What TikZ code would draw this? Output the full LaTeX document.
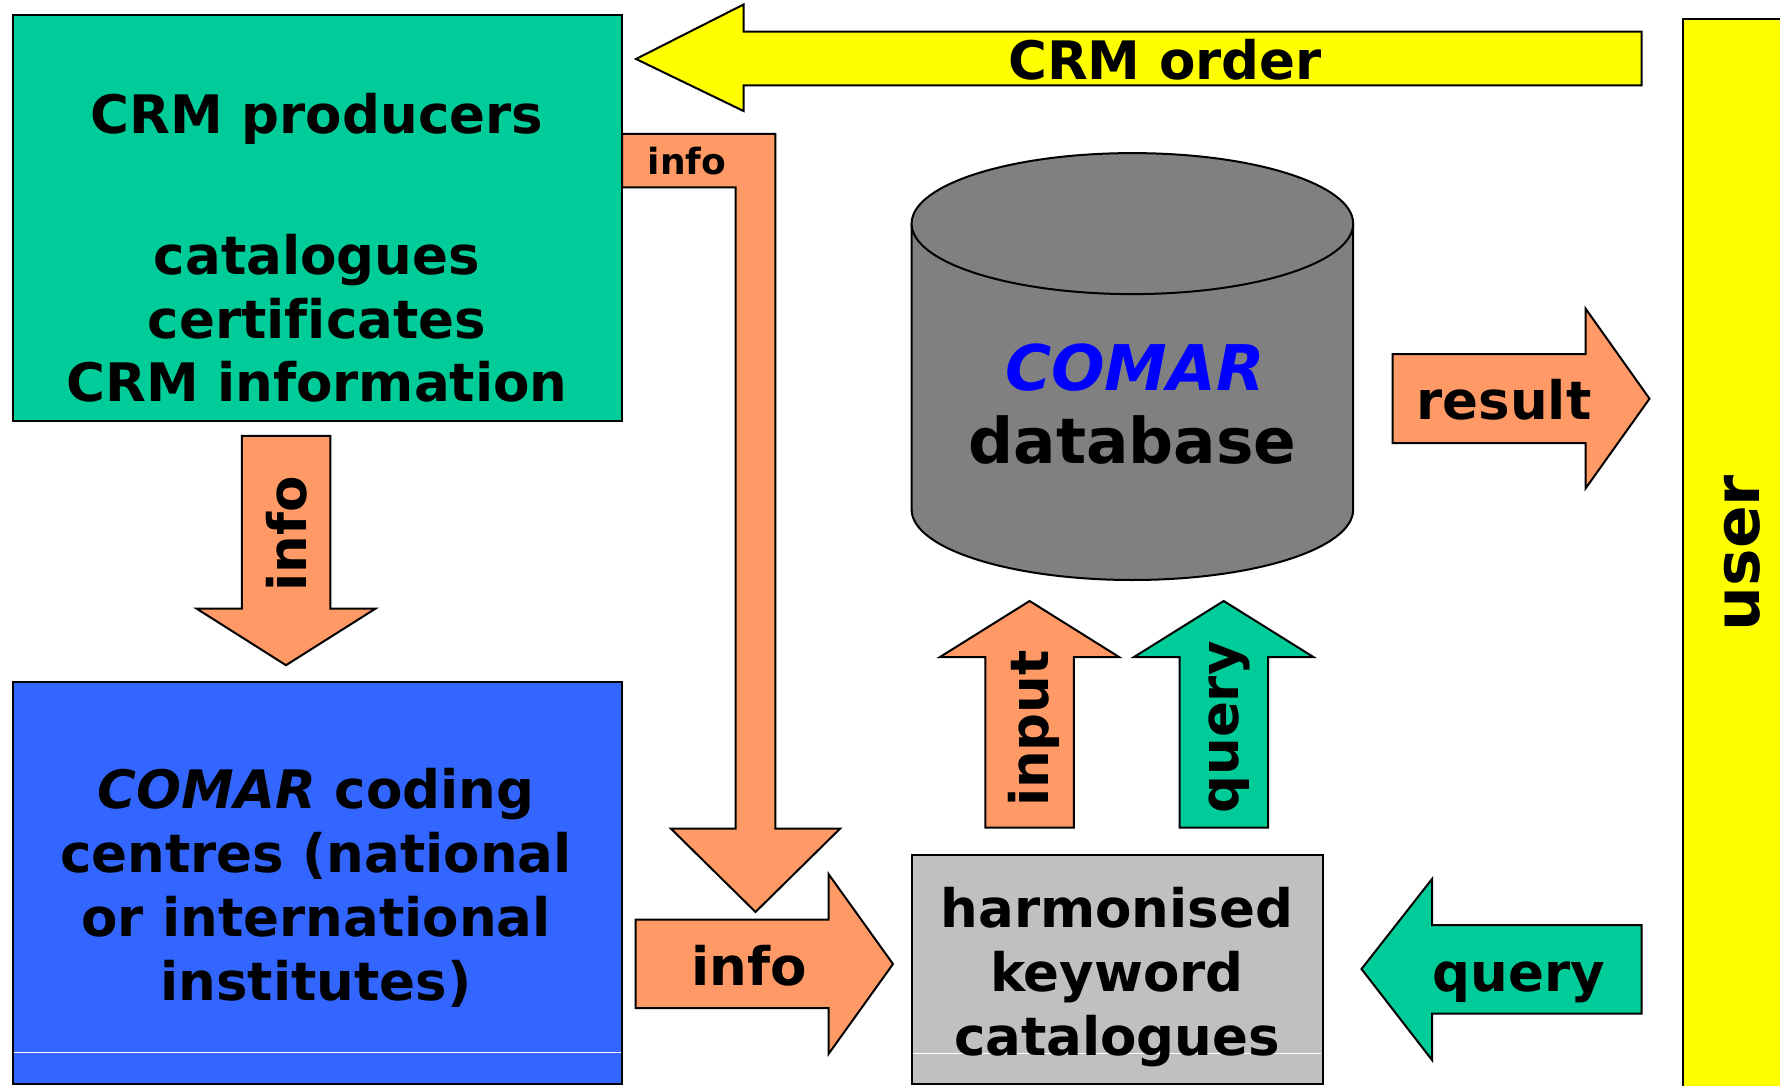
\documentclass[tikz,border=0pt]{standalone}
\usepackage{fontspec}
\setmainfont[Ligatures=NoCommon]{DejaVu Sans}
\definecolor{cgreen}{HTML}{00CC99}
\definecolor{cblue}{HTML}{3366FF}
\definecolor{corange}{HTML}{FF9966}
\definecolor{cyellow}{HTML}{FFFF00}
\definecolor{cgray}{HTML}{808080}
\definecolor{clgray}{HTML}{C0C0C0}
\definecolor{ctblue}{HTML}{0000FF}
\begin{document}
\begin{tikzpicture}[x=1pt,y=-1pt,
  outl/.style={draw=black,line width=2pt,line join=miter},
  boxnode/.style={outl,inner sep=0pt,outer sep=0pt,anchor=north west},
  lbl/.style={inner sep=0pt,font=\bfseries\fontsize{53}{64}\selectfont},
  biglbl/.style={inner sep=0pt,font=\bfseries\fontsize{63}{74}\selectfont},
  smalllbl/.style={inner sep=0pt,font=\bfseries\fontsize{36}{44}\selectfont},
  whiteline/.style={draw=white,line width=1pt}]
\useasboundingbox (0,0) rectangle (1780,1086);

% user bar
\node[boxnode,fill=cyellow,minimum width=110pt,minimum height=1080pt] (userbar) at (1682.5,19.3) {};
\node[biglbl,rotate=90] (usertxt) at (1742.5,553) {user};

% CRM producers box
\node[boxnode,fill=cgreen,minimum width=609.5pt,minimum height=406.5pt] (prod) at (12.5,14.8) {};
\node[lbl,anchor=base] (p1) at (317,134) {CRM producers};
\node[lbl,anchor=base] (p2) at (317,274.5) {catalogues};
\node[lbl,anchor=base] (p3) at (317,338) {certificates};
\node[lbl,anchor=base] (p4) at (317,401.5) {CRM information};

% coding centres box
\node[boxnode,fill=cblue,minimum width=609.5pt,minimum height=402pt] (centres) at (12.5,682) {};
\draw[whiteline] (14,1052.5) -- (621,1052.5);
\node[lbl,anchor=base] (c1) at (316,808) {{\itshape COMAR} coding};
\node[lbl,anchor=base] (c2) at (316,872) {centres (national};
\node[lbl,anchor=base] (c3) at (316,936) {or international};
\node[lbl,anchor=base] (c4) at (316,1000) {institutes)};

% keyword catalogues box
\node[boxnode,fill=clgray,minimum width=411pt,minimum height=229.2pt] (kw) at (911.6,854.8) {};
\draw[whiteline] (913,1053) -- (1321,1053);
\node[lbl,anchor=base] (k1) at (1117,927) {harmonised};
\node[lbl,anchor=base] (k2) at (1117,991) {keyword};
\node[lbl,anchor=base] (k3) at (1117,1055) {catalogues};

% database cylinder
\fill[cgray] (911.6,223.6) -- (911.6,509.5)
  arc[start angle=180,end angle=360,x radius=220.8pt,y radius=70.5pt]
  -- (1353.2,223.6)
  arc[start angle=0,end angle=180,x radius=220.8pt,y radius=70.5pt] -- cycle;
\draw[outl] (911.6,223.6) -- (911.6,509.5)
  arc[start angle=180,end angle=360,x radius=220.8pt,y radius=70.5pt]
  -- (1353.2,223.6);
\draw[outl,fill=cgray] (1132.4,223.6) ellipse[x radius=220.8pt,y radius=70.5pt];
\node[biglbl,anchor=base,text=ctblue,font=\bfseries\itshape\fontsize{63}{74}\selectfont] (db1) at (1135,390) {COMAR};
\node[biglbl,anchor=base] (db2) at (1132.5,463) {database};

% CRM order arrow
\draw[outl,fill=cyellow] (636,59) -- (743.5,4.5) -- (743.5,31.7) -- (1641.5,31.7)
  -- (1641.5,85.5) -- (743.5,85.5) -- (743.5,111) -- cycle;
\node[lbl,anchor=base] (order) at (1165,79.5) {CRM order};

% bent info arrow
\draw[outl,fill=corange] (622,134) -- (775.3,134) -- (775.3,828.7) -- (840,828.7)
  -- (755.5,912) -- (671,828.7) -- (735.6,828.7) -- (735.6,187.3) -- (622,187.3) -- cycle;
\node[smalllbl,anchor=base] (info1) at (687,175) {info};

% down info arrow
\draw[outl,fill=corange] (241.8,435.9) -- (330.3,435.9) -- (330.3,608.5) -- (375.7,608.5)
  -- (286,665.2) -- (196.4,608.5) -- (241.8,608.5) -- cycle;
\node[lbl,rotate=90] (info2) at (287,533.5) {info};

% bottom info arrow
\draw[outl,fill=corange] (635.7,919.5) -- (828.5,919.5) -- (828.5,874) -- (893,964)
  -- (828.5,1054) -- (828.5,1008) -- (635.7,1008) -- cycle;
\node[lbl,anchor=base] (info3) at (749,985) {info};

% result arrow
\draw[outl,fill=corange] (1392.5,354) -- (1585.5,354) -- (1585.5,308.5) -- (1649.5,398.7)
  -- (1585.5,488.5) -- (1585.5,443) -- (1392.5,443) -- cycle;
\node[lbl,anchor=base] (result) at (1504,419) {result};

% input arrow
\draw[outl,fill=corange] (985.4,827.6) -- (985.4,657) -- (940,657) -- (1029.6,601)
  -- (1119,657) -- (1073.9,657) -- (1073.9,827.6) -- cycle;
\node[lbl,rotate=90] (input) at (1034,728.5) {input};

% query up arrow
\draw[outl,fill=cgreen] (1179.5,827.6) -- (1179.5,657) -- (1134,657) -- (1223.7,601)
  -- (1313.4,657) -- (1268,657) -- (1268,827.6) -- cycle;
\node[lbl,rotate=90] (query1) at (1229,727.5) {query};

% query left arrow
\draw[outl,fill=cgreen] (1641.5,925) -- (1432,925) -- (1432,879) -- (1361.5,969)
  -- (1432,1060) -- (1432,1013.5) -- (1641.5,1013.5) -- cycle;
\node[lbl,anchor=base] (query2) at (1519,991.6) {query};
\end{tikzpicture}
\end{document}
